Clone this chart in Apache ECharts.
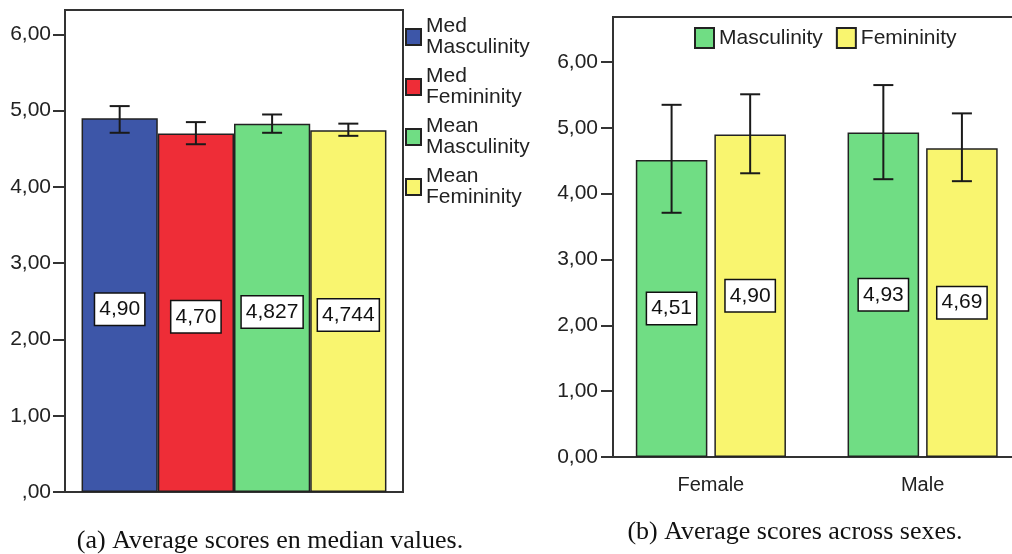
<!DOCTYPE html>
<html><head><meta charset="utf-8">
<script src="https://cdn.jsdelivr.net/npm/echarts@6/dist/echarts.min.js"></script>
<style>html,body{margin:0;padding:0;background:#fff}#c{width:1012px;height:554px}</style>
</head><body><div id="c"></div>
<script>
// ---- Chart (a): average scores en median values ----
const namesA = ['Med Masculinity', 'Med Femininity', 'Mean Masculinity', 'Mean Femininity'];
const valuesA = [4.90, 4.70, 4.827, 4.744];
const decimalsA = [2, 2, 3, 3];
const errLowA = [4.71, 4.56, 4.71, 4.67];
const errHighA = [5.06, 4.85, 4.95, 4.83];
const colorsA = ['#3d56a8', '#ee2d37', '#70dd84', '#f9f56f'];
// ---- Chart (b): average scores across sexes ----
const categoriesB = ['Female', 'Male'];
const namesB = ['Masculinity', 'Femininity'];
const masculinityB = [4.51, 4.93];
const femininityB = [4.90, 4.69];
const errMascLowB = [3.71, 4.22];
const errMascHighB = [5.35, 5.65];
const errFemLowB = [4.31, 4.19];
const errFemHighB = [5.51, 5.22];
const colorsB = ['#70dd84', '#f9f56f'];
// ---- ticks & captions ----
const yTicks = [0, 1, 2, 3, 4, 5, 6];
const captionA = '(a) Average scores en median values.';
const captionB = '(b) Average scores across sexes.';

const FONT = '"Liberation Sans", Arial, sans-serif';
const TXT = '#222';
const LINE = '#333';

const catGapA = 0.098, barGapA = 0;
const catGapB = 0.291, barGapB = 0.098;

function errRender(nSeries, catGap, barGap) {
  return function (params, api) {
    const cat = api.value(0), si = api.value(1), lo = api.value(2), hi = api.value(3);
    const band = api.size([1, 0])[0];
    const barW = band * (1 - catGap) / (nSeries + (nSeries - 1) * barGap);
    const groupW = barW * nSeries + barW * barGap * (nSeries - 1);
    const c = api.coord([cat, lo]);
    const x = c[0] - groupW / 2 + barW / 2 + si * barW * (1 + barGap);
    const yLo = c[1], yHi = api.coord([cat, hi])[1];
    const half = 10;
    const style = { stroke: '#1a1a1a', lineWidth: 2 };
    return { type: 'group', children: [
      { type: 'line', shape: { x1: x, y1: yLo, x2: x, y2: yHi }, style: style },
      { type: 'line', shape: { x1: x - half, y1: yHi, x2: x + half, y2: yHi }, style: style },
      { type: 'line', shape: { x1: x - half, y1: yLo, x2: x + half, y2: yLo }, style: style }
    ] };
  };
}

function labelStyle(fmt, offset) {
  return {
    show: true, position: 'inside', formatter: fmt, offset: offset || [0, 0],
    fontSize: 21, fontFamily: FONT, color: '#111',
    backgroundColor: '#fff', borderColor: '#111', borderWidth: 1.5,
    padding: [5, 4]
  };
}

const series = [];
namesA.forEach(function (n, i) {
  series.push({
    name: n, type: 'bar', xAxisIndex: 0, yAxisIndex: 0,
    data: [valuesA[i]],
    barGap: (barGapA * 100) + '%', barCategoryGap: (catGapA * 100) + '%',
    itemStyle: { color: colorsA[i], borderColor: '#222', borderWidth: 1.5 },
    label: labelStyle(function (p) { return p.value.toFixed(decimalsA[i]).replace('.', ','); }, [0, 4])
  });
});
series.push({
  name: 'errA', type: 'custom', xAxisIndex: 0, yAxisIndex: 0, z: 10,
  renderItem: errRender(namesA.length, catGapA, barGapA),
  encode: { x: 0, y: [2, 3] },
  data: namesA.map(function (n, i) { return [0, i, errLowA[i], errHighA[i]]; })
});
const valsB = [masculinityB, femininityB];
namesB.forEach(function (n, i) {
  series.push({
    name: n, type: 'bar', xAxisIndex: 1, yAxisIndex: 1,
    data: valsB[i],
    barGap: (barGapB * 100) + '%', barCategoryGap: (catGapB * 100) + '%',
    itemStyle: { color: colorsB[i], borderColor: '#222', borderWidth: 1.5 },
    label: labelStyle(function (p) { return p.value.toFixed(2).replace('.', ','); })
  });
});
const errDataB = [];
categoriesB.forEach(function (c, ci) {
  errDataB.push([ci, 0, errMascLowB[ci], errMascHighB[ci]]);
  errDataB.push([ci, 1, errFemLowB[ci], errFemHighB[ci]]);
});
series.push({
  name: 'errB', type: 'custom', xAxisIndex: 1, yAxisIndex: 1, z: 10,
  renderItem: errRender(namesB.length, catGapB, barGapB),
  encode: { x: 0, y: [2, 3] },
  data: errDataB
});

const yLabel = { fontSize: 21, fontFamily: FONT, color: TXT, customValues: yTicks };

const option = {
  animation: false,
  backgroundColor: '#fff',
  grid: [
    { left: 65, width: 338, top: 10, height: 482, show: true, borderColor: LINE, borderWidth: 2, outerBoundsMode: 'none' },
    { left: 605, width: 423.5, top: 17, height: 440, outerBoundsMode: 'none' },
    { left: 613, width: 430, top: 17, height: 440, show: true, borderColor: LINE, borderWidth: 2, outerBoundsMode: 'none' }
  ],
  xAxis: [
    { gridIndex: 0, type: 'category', data: [''], axisLine: { lineStyle: { color: LINE, width: 2 } },
      axisTick: { show: false }, axisLabel: { show: false } },
    { gridIndex: 1, type: 'category', data: categoriesB,
      axisLine: { lineStyle: { color: LINE, width: 2 } },
      axisTick: { alignWithLabel: true, length: 12, lineStyle: { color: LINE, width: 2 } },
      axisLabel: { fontSize: 20, fontFamily: FONT, color: TXT, margin: 18 } },
    { gridIndex: 2, type: 'value', show: false }
  ],
  yAxis: [
    { gridIndex: 0, type: 'value', min: 0, max: 6.32, interval: 1, splitLine: { show: false },
      axisLine: { show: true, lineStyle: { color: LINE, width: 2 } },
      axisTick: { show: true, length: 12, customValues: yTicks, lineStyle: { color: LINE, width: 2 } },
      axisLabel: Object.assign({ margin: 14, formatter: function (v) { return v === 0 ? ',00' : v.toFixed(2).replace('.', ','); } }, yLabel) },
    { gridIndex: 1, type: 'value', min: 0, max: 6.684, interval: 1, offset: -8, splitLine: { show: false },
      axisLine: { show: true, lineStyle: { color: LINE, width: 2 } },
      axisTick: { show: true, length: 12, customValues: yTicks, lineStyle: { color: LINE, width: 2 } },
      axisLabel: Object.assign({ margin: 15, formatter: function (v) { return v.toFixed(2).replace('.', ','); } }, yLabel) },
    { gridIndex: 2, type: 'value', show: false }
  ],
  legend: [
    { data: namesA, icon: 'rect', orient: 'vertical', left: 405, top: 16, padding: 0, itemWidth: 15, itemHeight: 16, itemGap: 8,
      formatter: function (n) { return n.replace(' ', '\n'); },
      textStyle: { fontSize: 21, lineHeight: 21, color: TXT, fontFamily: FONT } },
    { data: namesB, icon: 'rect', orient: 'horizontal', left: 694, top: 27, padding: 0, itemWidth: 19, itemHeight: 20, itemGap: 13,
      textStyle: { fontSize: 21, lineHeight: 20, color: TXT, fontFamily: FONT } }
  ],
  graphic: [
    { type: 'text', x: 270, y: 541, style: { text: captionA, fontSize: 26, fontFamily: '"Liberation Serif", "Times New Roman", serif', fill: '#111', align: 'center', verticalAlign: 'middle' } },
    { type: 'text', x: 795, y: 532, style: { text: captionB, fontSize: 26, fontFamily: '"Liberation Serif", "Times New Roman", serif', fill: '#111', align: 'center', verticalAlign: 'middle' } }
  ],
  series: series
};
const chart = echarts.init(document.getElementById('c'), null, { renderer: 'canvas' });
chart.setOption(option);
</script>
</body></html>
